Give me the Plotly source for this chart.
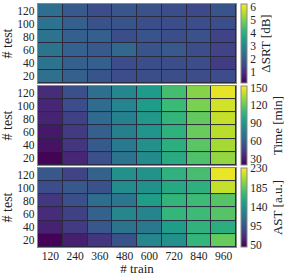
import plotly.graph_objects as go
from plotly.subplots import make_subplots

n_train = [120, 240, 360, 480, 600, 720, 840, 960]
n_test = [20, 40, 60, 80, 100, 120]

# rows: n_test = 20 ... 120 ; columns: n_train = 120 ... 960
delta_srt = [
    [2.40, 2.00, 1.77, 1.60, 1.65, 1.65, 1.60, 1.60],
    [2.52, 2.00, 2.00, 1.60, 1.65, 1.65, 1.65, 1.30],
    [2.52, 2.06, 1.88, 2.17, 1.77, 1.88, 1.65, 1.42],
    [2.46, 2.00, 2.00, 1.65, 1.77, 1.65, 1.71, 1.42],
    [2.46, 2.00, 1.71, 1.77, 1.65, 1.65, 1.60, 1.65],
    [2.35, 1.88, 1.65, 1.82, 1.71, 1.65, 1.53, 1.77],
]
time_min = [
    [20.0, 33.2, 51.7, 70.2, 83.4, 100.5, 115.0, 130.9],
    [25.3, 39.8, 57.0, 74.1, 86.0, 103.2, 117.7, 134.8],
    [27.9, 42.4, 59.6, 76.8, 88.6, 104.5, 121.6, 138.8],
    [31.9, 45.1, 64.9, 78.1, 90.0, 107.1, 120.3, 141.4],
    [33.2, 50.4, 66.2, 79.4, 92.6, 109.8, 125.6, 144.1],
    [35.8, 51.7, 67.5, 80.7, 92.6, 112.4, 128.2, 148.0],
]
ast = [
    [47.0, 61.7, 74.6, 93.0, 131.6, 139.0, 168.4, 186.8],
    [63.6, 78.3, 96.7, 116.9, 120.6, 148.2, 164.8, 161.1],
    [69.1, 82.0, 104.0, 131.6, 129.8, 168.4, 172.1, 181.3],
    [76.4, 91.2, 111.4, 118.8, 148.2, 166.6, 172.1, 181.3],
    [89.3, 96.7, 93.0, 135.3, 139.0, 157.4, 162.9, 214.4],
    [96.7, 83.8, 104.0, 139.0, 140.8, 164.8, 175.8, 225.5],
]

panels = [
    dict(z=delta_srt, zmin=0.2, zmax=6.2, ticks=[1, 2, 3, 4, 5, 6], title="ΔSRT [dB]"),
    dict(z=time_min, zmin=19, zmax=153, ticks=[30, 60, 90, 120, 150], title="Time [min]"),
    dict(z=ast, zmin=46, zmax=231, ticks=[50, 95, 140, 185, 230], title="AST [a.u.]"),
]

FONT = "Liberation Serif"
TICK = 11.5
fig = make_subplots(rows=3, cols=1, shared_xaxes=True, vertical_spacing=0.0125)

for i, p in enumerate(panels):
    fig.add_trace(
        go.Heatmap(
            x=n_train, y=n_test, z=p["z"],
            colorscale="Viridis", zmin=p["zmin"], zmax=p["zmax"],
            xgap=1, ygap=1, hoverinfo="skip",
            colorbar=dict(
                x=1.025, xanchor="left", xpad=0, ypad=0,
                thickness=6, len=1, lenmode="fraction",
                outlinecolor="#888888", outlinewidth=1,
                tickmode="array", tickvals=p["ticks"],
                ticktext=[str(t) for t in p["ticks"]], ticks="",
                tickfont=dict(family=FONT, size=TICK, color="#222"),
                title=dict(text=p["title"], side="right",
                           font=dict(family=FONT, size=13, color="#222")),
            ),
        ),
        row=i + 1, col=1,
    )

fig.update_layout(
    width=294, height=276,
    margin=dict(l=38, r=58, t=4, b=29, autoexpand=False),
    paper_bgcolor="white", plot_bgcolor="#2a2a40",
    font=dict(family=FONT, size=TICK, color="#222"),
)

# position colorbars on each subplot's domain
for i in range(3):
    ax = fig.layout["yaxis" + ("" if i == 0 else str(i + 1))]
    d0, d1 = ax.domain
    fig.data[i].colorbar.y = (d0 + d1) / 2
    fig.data[i].colorbar.len = d1 - d0

fig.update_xaxes(
    tickvals=n_train, ticks="", ticklen=0, ticklabelstandoff=-2,
    showline=True, mirror=True,
    linecolor="#888888", linewidth=1.2, showgrid=False, zeroline=False,
    tickfont=dict(family=FONT, size=TICK), automargin=False,
)
fig.update_yaxes(
    tickvals=n_test, ticks="", showline=True, mirror=True,
    linecolor="#888888", linewidth=1.2, showgrid=False, zeroline=False,
    tickfont=dict(family=FONT, size=TICK), automargin=False,
    title=dict(text="# test", font=dict(family=FONT, size=14), standoff=2),
)
fig.update_xaxes(title=dict(text="# train", font=dict(family=FONT, size=13), standoff=6), row=3, col=1)

fig.write_html("out.html", config={"displayModeBar": False, "staticPlot": True})

# remove the default page margin so the figure fills the window exactly
with open("out.html", encoding="utf-8") as f:
    html = f.read()
html = html.replace("<body>", '<body style="margin:0;overflow:hidden">', 1)
with open("out.html", "w", encoding="utf-8") as f:
    f.write(html)
